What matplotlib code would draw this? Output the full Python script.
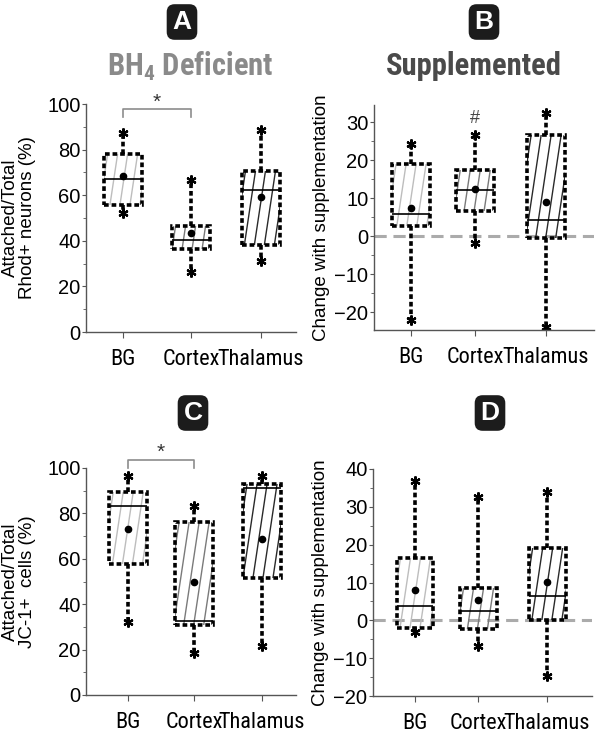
import matplotlib
matplotlib.use('Agg')
import matplotlib.pyplot as plt
import numpy as np
from matplotlib.lines import Line2D
from matplotlib.ticker import MultipleLocator

plt.rcParams['font.family'] = ['Liberation Sans', 'DejaVu Sans']
plt.rcParams['mathtext.fontset'] = 'custom'
plt.rcParams['mathtext.bf'] = 'Roboto Condensed:bold'
plt.rcParams['mathtext.rm'] = 'Roboto Condensed'

NARROW = ['Roboto Condensed', 'Liberation Sans', 'DejaVu Sans']

categories = ['BG', 'Cortex', 'Thalamus']

# Panel A: BH4 deficient, Rhod+ neurons
a_lo = [52.0, 26.4, 31.2]
a_q1 = [55.7, 36.4, 38.1]
a_med = [67.0, 40.3, 62.3]
a_q3 = [78.2, 46.5, 70.8]
a_hi = [87.2, 66.7, 88.4]
a_mean = [68.5, 43.3, 59.0]

# Panel B: supplemented, change
b_lo = [-22.2, -1.9, -23.8]
b_q1 = [2.7, 6.7, -0.4]
b_med = [5.7, 12.2, 4.2]
b_q3 = [19.0, 17.4, 26.6]
b_hi = [24.3, 26.7, 32.4]
b_mean = [7.3, 12.3, 9.1]

# Panel C: BH4 deficient, JC-1+ cells
c_lo = [32.0, 18.7, 21.6]
c_q1 = [57.6, 30.9, 51.5]
c_med = [83.4, 32.4, 91.2]
c_q3 = [89.4, 76.3, 93.1]
c_hi = [96.3, 83.1, 96.3]
c_mean = [73.2, 49.7, 68.7]

# Panel D: supplemented, change
d_lo = [-3.1, -6.9, -14.6]
d_q1 = [-1.9, -2.4, 0.2]
d_med = [3.9, 2.4, 6.4]
d_q3 = [16.5, 8.6, 19.0]
d_hi = [36.8, 32.7, 34.0]
d_mean = [7.9, 5.3, 10.2]

hatch_colors = ['#bdbdbd', '#7a7a7a', '#2a2a2a']

fig = plt.figure(figsize=(6.04, 7.36), dpi=100)

W, H = 604.0, 736.0


def make_ax(left, right, top, bottom):
    return fig.add_axes([left / W, 1 - bottom / H, (right - left) / W, (bottom - top) / H])


def draw_panel(ax, lo, q1, med, q3, hi, mean, ylim, major, minor, xlim, ylabel, pos,
               zero_line=False, yl_x=-0.3):
    stats = []
    for i in range(len(categories)):
        stats.append(dict(med=med[i], q1=q1[i], q3=q3[i], whislo=lo[i], whishi=hi[i],
                          mean=mean[i], fliers=[], label=categories[i]))
    pos = np.asarray(pos, dtype=float)
    hw = 0.28
    if zero_line:
        ax.axhline(0, color='#ababab', lw=2.2, ls=(0, (4, 2.2)), zorder=0.5)
    res = ax.bxp(stats, positions=pos, widths=2 * hw, patch_artist=True, showmeans=True,
                 capwidths=0.001,
                 boxprops=dict(facecolor='none', edgecolor='black', linewidth=2.6,
                               linestyle=(0, (1.3, 0.8))),
                 whiskerprops=dict(color='black', linewidth=2.6, linestyle=(0, (1.3, 0.8))),
                 capprops=dict(linestyle='none', marker=(6, 2, 0), markersize=7,
                               markeredgecolor='black', markeredgewidth=1.5),
                 medianprops=dict(color='black', linewidth=1.2),
                 meanprops=dict(marker='o', markerfacecolor='black', markeredgecolor='black',
                                markersize=4.5))
    ax.set_xlim(*xlim)
    ax.set_ylim(*ylim)
    ax.yaxis.set_major_locator(MultipleLocator(major))
    ax.yaxis.set_minor_locator(MultipleLocator(minor))
    ax.set_xticks(pos)
    ax.set_xticklabels(categories, family=NARROW, fontsize=16)
    for s in ['top', 'right']:
        ax.spines[s].set_visible(False)
    for s in ['left', 'bottom']:
        ax.spines[s].set_color('#555555')
        ax.spines[s].set_linewidth(1.0)
    ax.tick_params(axis='y', which='major', length=3, color='#555555', labelsize=14.5, pad=1)
    ax.tick_params(axis='y', which='minor', length=2, color='#555555')
    ax.tick_params(axis='x', length=4, color='#555555', pad=8)
    ax.set_ylabel(ylabel, fontsize=13.5, linespacing=0.95)
    ax.yaxis.set_label_coords(yl_x, 0.5)

    # steep hatch lines inside boxes
    fig.canvas.draw()
    tr = ax.transData
    inv = tr.inverted()
    for i, box in enumerate(res['boxes']):
        (px0, py0) = tr.transform((pos[i] - hw, q1[i]))
        (px1, py1) = tr.transform((pos[i] + hw, q3[i]))
        h = py1 - py0
        k = 0.15
        step = 10.0
        off = px0 - k * h + 4
        while off < px1:
            p_a = inv.transform((off, py0))
            p_b = inv.transform((off + k * h, py1))
            ln = Line2D([p_a[0], p_b[0]], [p_a[1], p_b[1]], color=hatch_colors[i], lw=1.0, zorder=1.5)
            ax.add_line(ln)
            ln.set_clip_path(box)
            off += step
    return res


axA = make_ax(86, 296, 104, 332)
draw_panel(axA, a_lo, a_q1, a_med, a_q3, a_hi, a_mean, (0, 100), 20, 10, (-0.536, 2.51),
           'Attached/Total\nRhod+ neurons (%)', [0, 0.985, 2], yl_x=-0.24)
axB = make_ax(374, 594, 105, 330)
draw_panel(axB, b_lo, b_q1, b_med, b_q3, b_hi, b_mean, (-24.7, 34.5), 10, 5, (-0.548, 2.71),
           'Change with supplementation', [0, 0.95, 2], zero_line=True, yl_x=-0.2)
axC = make_ax(86, 296, 468, 695)
draw_panel(axC, c_lo, c_q1, c_med, c_q3, c_hi, c_mean, (0, 100), 20, 10, (-0.627, 2.51),
           'Attached/Total\nJC-1+  cells (%)', [0, 0.985, 2], yl_x=-0.24)
axD = make_ax(373, 592, 469, 696)
draw_panel(axD, d_lo, d_q1, d_med, d_q3, d_hi, d_mean, (-20, 40), 10, 5, (-0.636, 2.68),
           'Change with supplementation', [0, 0.955, 2], zero_line=True, yl_x=-0.2)

# significance brackets
for ax, ybar, ytick, ystar in [(axA, 97.8, 94.3, 96.5), (axC, 103.5, 100.0, 102.7)]:
    ax.plot([0, 0, 0.985, 0.985], [ytick, ybar, ybar, ytick], color='#8c8c8c', lw=1.2, clip_on=False)
    ax.text(0.49, ystar, '*', ha='center', va='bottom', fontsize=15, color='#333333', clip_on=False)
axB.text(0.95, 31, '#', ha='center', va='center', fontsize=13, color='#444444')

# panel letters
for x, y, letter in [(182, 22, 'A'), (484, 22, 'B'), (193, 413, 'C'), (490, 413, 'D')]:
    fig.text(x / W, 1 - y / H, letter, ha='center', va='center', color='white',
             fontsize=19, fontweight='bold', family=['Liberation Sans', 'DejaVu Sans'],
             bbox=dict(boxstyle='round,pad=0.22,rounding_size=0.3', fc='#1c1c1c', ec='none'))

fig.text(190 / W, 1 - 66 / H, r'BH$_\mathbf{4}$ Deficient', ha='center', va='center',
         color='#8a8a8a', fontsize=22, fontweight='bold', family=NARROW)
fig.text(474 / W, 1 - 66 / H, 'Supplemented', ha='center', va='center',
         color='#4a4a4a', fontsize=22, fontweight='bold', family=NARROW)

fig.savefig('out.png', dpi=100, facecolor='white')
